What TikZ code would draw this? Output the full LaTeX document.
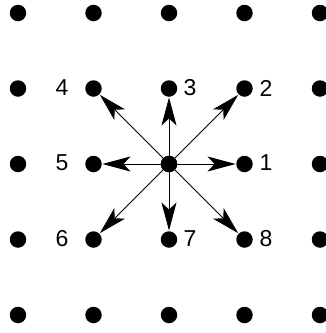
\documentclass[tikz,border=0pt]{standalone}
\usepackage{fontspec}
\setmainfont{Liberation Sans}
\usetikzlibrary{arrows.meta}
\begin{document}
\begin{tikzpicture}[x=1pt,y=-1pt,
  gdot/.style={circle,fill=black,inner sep=0pt,minimum size=16.5pt},
  lab/.style={font=\fontsize{23}{27}\selectfont,inner sep=0pt},
  vec/.style={line width=0.9pt,-{Stealth[length=28pt,width=15pt,inset=7pt]},shorten >=0.5pt}]
\useasboundingbox (0,0) rectangle (325,333);
\foreach \i in {0,...,4}{
  \foreach \j in {0,...,4}{
    \node[gdot] (d\i\j) at ({18+75.5*\i},{13+75.5*\j}) {};
  }
}
\foreach \t in {d32,d31,d21,d11,d12,d13,d23,d33}{
  \draw[vec] (d22.center) -- (\t);
}
\node[gdot] at (d22) {};
\node[lab] (l1) at (266,163) {1};
\node[lab] (l2) at (266,88) {2};
\node[lab] (l3) at (190,88) {3};
\node[lab] (l4) at (62,88) {4};
\node[lab] (l5) at (62,163) {5};
\node[lab] (l6) at (62,239) {6};
\node[lab] (l7) at (190,239) {7};
\node[lab] (l8) at (266,239) {8};
\end{tikzpicture}
\end{document}
